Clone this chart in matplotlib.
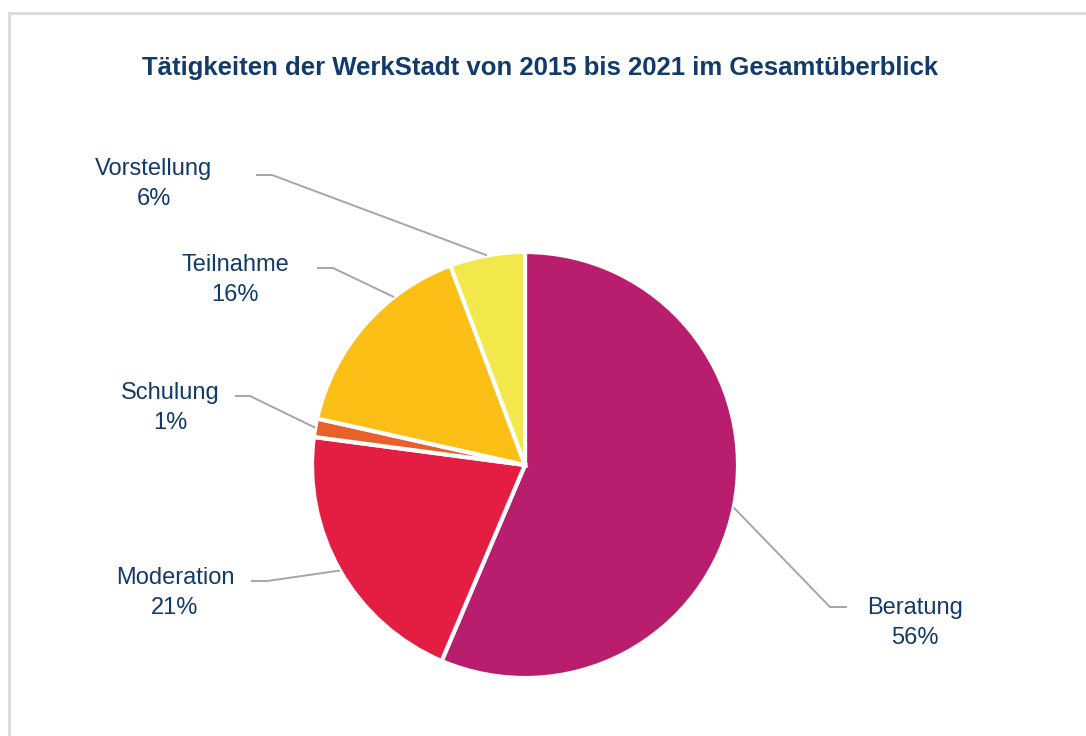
import numpy as np
import matplotlib
matplotlib.use("Agg")
import matplotlib.pyplot as plt
from matplotlib.patches import Rectangle

plt.rcParams['font.family'] = ['Liberation Sans', 'DejaVu Sans']

# Data (share of activities, %)
labels = ["Beratung", "Moderation", "Schulung", "Teilnahme", "Vorstellung"]
values = [56.4, 20.7, 1.4, 15.8, 5.7]
colors = ["#B81E6D", "#E41E43", "#E9612A", "#FBBF16", "#F2E84B"]

title = "Tätigkeiten der WerkStadt von 2015 bis 2021 im Gesamtüberblick"
navy = "#123A6A"
grey = "#A6A6A6"

# layout in pixel coords (y from top)
W, H = 1086, 736
centre = (525, 465)
radius = 213
text_pos = [(915, 623), (175, 593), (170, 408), (235, 280), (154, 184)]
knee = [(830, 607), (267, 581), (250, 396), (333, 268), (272, 175)]
tail = [(847, 607), (251, 581), (235, 396), (317, 268), (256, 175)]
anchor_shift = [0, 0, 0, -11, 0]   # degrees

fig = plt.figure(figsize=(W / 100, H / 100), dpi=100)
ax = fig.add_axes([0, 0, 1, 1])

wedges, _ = ax.pie(values, colors=colors, startangle=90, counterclock=False,
                   center=(centre[0], H - centre[1]), radius=radius,
                   wedgeprops=dict(edgecolor="white", linewidth=3))
ax.set_xlim(0, W)
ax.set_ylim(0, H)
ax.set_aspect('equal')
ax.axis('off')

# labels + leader lines
for i, w in enumerate(wedges):
    ang = np.deg2rad((w.theta1 + w.theta2) / 2 + anchor_shift[i])
    ax_pt = (w.center[0] + radius * np.cos(ang), w.center[1] + radius * np.sin(ang))
    xs = [tail[i][0], knee[i][0], ax_pt[0]]
    ys = [H - tail[i][1], H - knee[i][1], ax_pt[1]]
    ax.plot(xs, ys, color=grey, lw=1.4, solid_capstyle='butt')
    pct = f"{values[i]:.0f}%"
    ax.text(text_pos[i][0], H - text_pos[i][1], f"{labels[i]}\n{pct}",
            ha='center', va='center', fontsize=17, color=navy, linespacing=1.45)

ax.text(W / 2 - 3, H - 68, title, ha='center', va='center', fontsize=18.5,
        fontweight='bold', color=navy)

# light frame around the chart (runs off the right/bottom edge)
fig.patches.append(Rectangle((8.5 / W, -0.05), 1.2, (H - 12.5) / H + 0.05,
                             transform=fig.transFigure, fill=False,
                             edgecolor="#D9D9D9", linewidth=2))

fig.savefig("out.png", dpi=100)
